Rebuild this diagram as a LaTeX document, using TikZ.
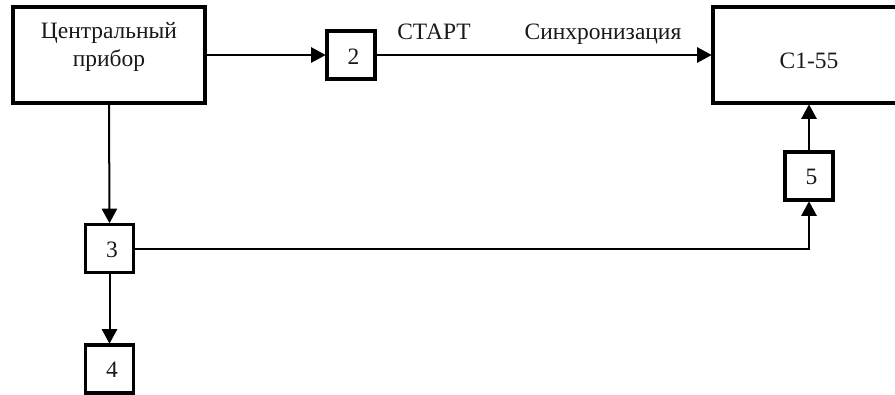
\documentclass[tikz,border=0pt]{standalone}
\usepackage{fontspec}
\setmainfont{Liberation Serif}
\usetikzlibrary{arrows.meta}
\tikzset{
  x=0.75pt,y=-0.75pt,
  block/.style={draw=black,line width=2.6pt,fill=white,inner sep=0pt,outer sep=0.975pt},
  txt/.style={inner sep=0pt,font=\fontsize{17.6}{21}\selectfont,align=center,text=black!90},
  link/.style={draw=black,line width=1.5pt,-{Triangle[length=11pt,width=11.5pt]}}
}
\begin{document}
\begin{tikzpicture}
\useasboundingbox (0,0) rectangle (895,394);
\clip (0,0) rectangle (895,394);
\node[block,minimum width=144pt,minimum height=72pt] (cp) at (109,55) {};
\node[block,minimum width=36pt,minimum height=36pt] (b2) at (351,55) {};
\node[block,minimum width=36pt,minimum height=36pt] (b3) at (109.5,248.5) {};
\node[block,minimum width=36pt,minimum height=36pt] (b4) at (109.5,369) {};
\node[block,minimum width=36pt,minimum height=36pt] (b5) at (809,176) {};
\node[block,minimum width=142.5pt,minimum height=72pt] (c1) at (808,55) {};
\node[txt] (tcp) at (109,46.5) {Центральный\\прибор};
\node[txt] (t2) at (353.5,56.5) {2};
\node[txt] (t3) at (112,250) {3};
\node[txt] (t4) at (112,370) {4};
\node[txt] (t5) at (811.5,177) {5};
\node[txt] (t1) at (809,61) {С1-55};
\node[txt,anchor=base] (start) at (434,39) {СТАРТ};
\node[txt,anchor=base] (sync) at (603,39) {Синхронизация};
\draw[link] (cp.east) -- (b2.west);
\draw[link] (b2.east) -- (c1.west);
\draw[link] (cp.south) -- (b3.north);
\draw[link] (b3.south) -- (b4.north);
\draw[link] (b3.east) -| (b5.south);
\draw[link] (b5.north) -- (c1.south -| b5.north);
\end{tikzpicture}
\end{document}
